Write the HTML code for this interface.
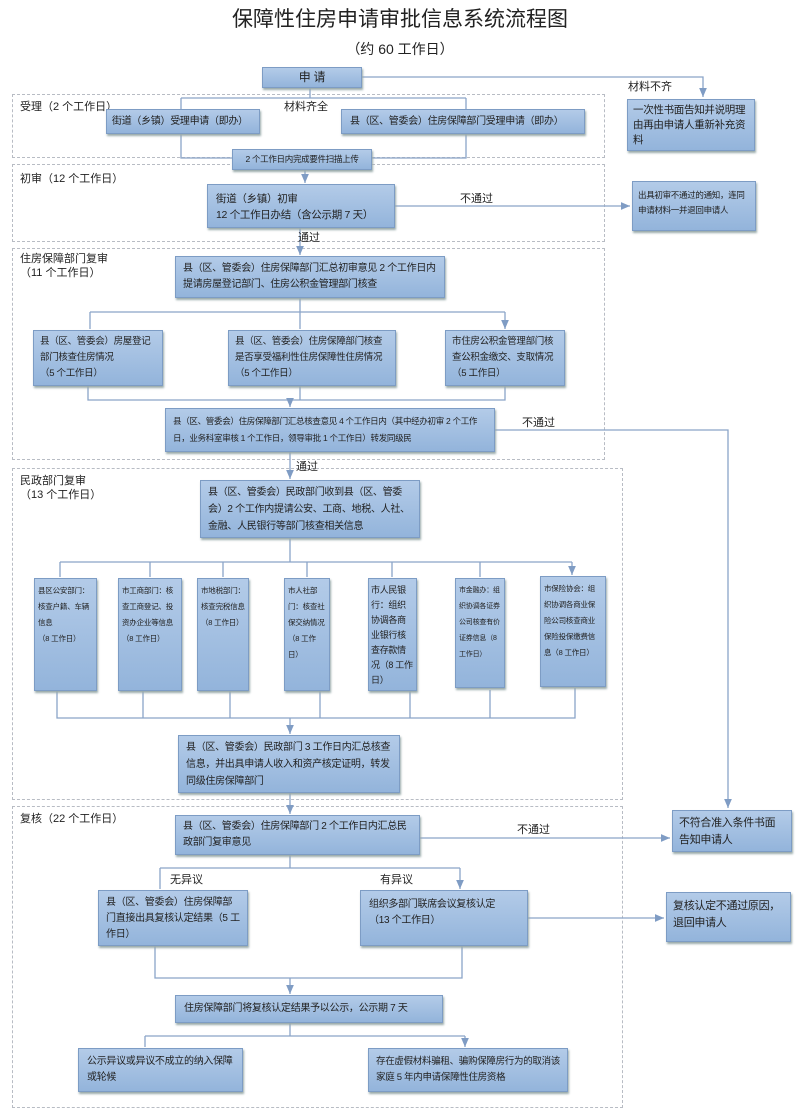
<!DOCTYPE html>
<html><head><meta charset="utf-8"><style>
body{margin:0;width:800px;height:1118px;background:#fff;position:relative;overflow:hidden;font-family:"Liberation Sans","Noto Sans CJK SC",sans-serif;color:#222}
.b{position:absolute;box-sizing:border-box;background:linear-gradient(#b3cbe8,#93b4db);border:1px solid #7d9cc4;box-shadow:1px 2px 2px #9aa;font-size:10px;line-height:15px;padding:3px 6px;overflow:hidden;letter-spacing:-0.3px}
.c{text-align:center}
.s{position:absolute;box-sizing:border-box;border:1px dashed #b8bcc4}
.t{position:absolute;font-size:11px;line-height:14px;white-space:nowrap}
.sm{font-size:7.5px;line-height:16px;padding:4px 3px;letter-spacing:-0.2px}
.nw{white-space:nowrap}
svg{position:absolute;left:0;top:0}
</style></head><body>
<div class="t" style="left:0;width:800px;text-align:center;top:6px;font-size:21px;line-height:28px">保障性住房申请审批信息系统流程图</div>
<div class="t" style="left:0;width:800px;text-align:center;top:40px;font-size:14px;line-height:18px">（约 60 工作日）</div>

<div class="s" style="left:12px;top:94px;width:593px;height:64px"></div>
<div class="s" style="left:12px;top:164px;width:593px;height:78px"></div>
<div class="s" style="left:12px;top:248px;width:593px;height:212px"></div>
<div class="s" style="left:12px;top:468px;width:611px;height:332px"></div>
<div class="s" style="left:12px;top:806px;width:611px;height:302px"></div>

<svg width="800" height="1118">
<defs><marker id="a" markerWidth="8" markerHeight="8" refX="7" refY="4" orient="auto"><path d="M0,1 L7,4 L0,7z" fill="#7f9cc4"/></marker></defs>
<g stroke="#8aa4c8" stroke-width="1.3" fill="none">
<path d="M362,77 H703 V97" marker-end="url(#a)"/>
<path d="M310,87 V98 M181,98 H466 M181,98 V158 H466 V98"/>
<path d="M305,169 V183" marker-end="url(#a)"/>
<path d="M395,206 H630" marker-end="url(#a)"/>
<path d="M300,228 V255" marker-end="url(#a)"/>
<path d="M300,298 V312 M90,312 H505"/>
<path d="M90,312 V329 M300,312 V329 M505,312 V329" marker-end="url(#a)"/>
<path d="M88,386 V400 H505 V386 M300,386 V400"/>
<path d="M290,400 V407" marker-end="url(#a)"/>
<path d="M495,430 H728 V808" marker-end="url(#a)"/>
<path d="M290,452 V479" marker-end="url(#a)"/>
<path d="M290,538 V562 M60,562 H572"/>
<path d="M60,562 V577 M150,562 V577 M223,562 V577 M307,562 V577 M392,562 V577 M480,562 V577 M572,562 V575" marker-end="url(#a)"/>
<path d="M57,690 V718 H575 V688 M143,690 V718 M230,690 V718 M320,690 V718 M410,690 V718 M490,690 V718"/>
<path d="M290,718 V734" marker-end="url(#a)"/>
<path d="M290,793 V814" marker-end="url(#a)"/>
<path d="M420,838 H670" marker-end="url(#a)"/>
<path d="M290,855 V868 M160,868 H460"/>
<path d="M160,868 V889 M460,868 V889" marker-end="url(#a)"/>
<path d="M528,918 H664" marker-end="url(#a)"/>
<path d="M155,946 V978 H462 V946"/>
<path d="M290,978 V994" marker-end="url(#a)"/>
<path d="M290,1023 V1036 M145,1036 H465"/>
<path d="M145,1036 V1047 M465,1036 V1047" marker-end="url(#a)"/>
</g></svg>

<div class="b c" style="left:262px;top:67px;width:100px;height:21px;font-size:12px;line-height:13px">申 请</div>
<div class="t" style="left:628px;top:80px">材料不齐</div>
<div class="b" style="left:627px;top:99px;width:128px;height:52px;font-size:10.5px;line-height:15px;padding:3px 5px">一次性书面告知并说明理由再由申请人重新补充资料</div>

<div class="t" style="left:20px;top:100px">受理（2 个工作日）</div>
<div class="t" style="left:284px;top:100px">材料齐全</div>
<div class="b nw" style="left:106px;top:109px;width:154px;height:25px;padding:4px 5px">街道（乡镇）受理申请（即办）</div>
<div class="b nw" style="left:341px;top:109px;width:244px;height:25px;padding:4px 8px">县（区、管委会）住房保障部门受理申请（即办）</div>
<div class="b c nw" style="left:232px;top:149px;width:140px;height:21px;font-size:8.5px;line-height:13px;padding:3px 2px">2 个工作日内完成要件扫描上传</div>

<div class="t" style="left:20px;top:172px">初审（12 个工作日）</div>
<div class="b nw" style="left:207px;top:184px;width:188px;height:44px;font-size:10.5px;line-height:16px;padding:6px 8px">街道（乡镇）初审<br>12 个工作日办结（含公示期 7 天）</div>
<div class="t" style="left:460px;top:192px">不通过</div>
<div class="b" style="left:632px;top:181px;width:124px;height:50px;font-size:8.5px;line-height:15px;padding:6px 5px">出具初审不通过的通知，连同申请材料一并退回申请人</div>
<div class="t" style="left:298px;top:231px">通过</div>

<div class="t" style="left:20px;top:252px">住房保障部门复审<br>（11 个工作日）</div>
<div class="b" style="left:175px;top:256px;width:270px;height:42px;font-size:10px;line-height:16px;padding:4px 7px">县（区、管委会）住房保障部门汇总初审意见 2 个工作日内提请房屋登记部门、住房公积金管理部门核查</div>
<div class="b" style="left:33px;top:330px;width:130px;height:56px;line-height:16px;font-size:9.5px">县（区、管委会）房屋登记部门核查住房情况<br>（5 个工作日）</div>
<div class="b" style="left:228px;top:330px;width:168px;height:56px;line-height:16px;font-size:9.5px">县（区、管委会）住房保障部门核查是否享受福利性住房保障性住房情况（5 个工作日）</div>
<div class="b" style="left:445px;top:330px;width:120px;height:56px;line-height:16px;font-size:9.5px">市住房公积金管理部门核查公积金缴交、支取情况（5 工作日）</div>
<div class="b" style="left:165px;top:408px;width:330px;height:44px;font-size:8.5px;line-height:17px;padding:4px 7px">县（区、管委会）住房保障部门汇总核查意见 4 个工作日内（其中经办初审 2 个工作日，业务科室审核 1 个工作日，领导审批 1 个工作日）转发同级民</div>
<div class="t" style="left:522px;top:416px">不通过</div>
<div class="t" style="left:296px;top:460px">通过</div>

<div class="t" style="left:20px;top:474px">民政部门复审<br>（13 个工作日）</div>
<div class="b" style="left:200px;top:480px;width:220px;height:58px;font-size:10px;line-height:17px;padding:3px 7px">县（区、管委会）民政部门收到县（区、管委会）2 个工作内提请公安、工商、地税、人社、金融、人民银行等部门核查相关信息</div>
<div class="b sm" style="left:34px;top:578px;width:63px;height:113px">县区公安部门：核查户籍、车辆信息<br>（8 工作日）</div>
<div class="b sm" style="left:118px;top:578px;width:64px;height:113px">市工商部门：核查工商登记、投资办企业等信息<br>（8 工作日）</div>
<div class="b sm" style="left:197px;top:578px;width:52px;height:113px">市地税部门：核查完税信息<br>（8 工作日）</div>
<div class="b sm" style="left:284px;top:578px;width:46px;height:113px">市人社部门：核查社保交纳情况<br>（8 工作日）</div>
<div class="b" style="left:368px;top:578px;width:49px;height:113px;font-size:9px;line-height:15px;padding:4px 2px">市人民银行：组织协调各商业银行核查存款情况（8 工作日）</div>
<div class="b sm" style="left:455px;top:578px;width:50px;height:110px;font-size:7px">市金融办：组织协调各证券公司核查有价证券信息（8 工作日）</div>
<div class="b sm" style="left:540px;top:576px;width:66px;height:111px">市保险协会：组织协调各商业保险公司核查商业保险投保缴费信息（8 工作日）</div>
<div class="b" style="left:178px;top:735px;width:222px;height:58px;font-size:10px;line-height:17px;padding:3px 7px">县（区、管委会）民政部门 3 工作日内汇总核查信息，并出具申请人收入和资产核定证明，转发同级住房保障部门</div>

<div class="t" style="left:20px;top:812px">复核（22 个工作日）</div>
<div class="b" style="left:175px;top:815px;width:245px;height:40px;line-height:16px;padding:3px 7px">县（区、管委会）住房保障部门 2 个工作日内汇总民政部门复审意见</div>
<div class="t" style="left:517px;top:823px">不通过</div>
<div class="b" style="left:672px;top:810px;width:120px;height:42px;font-size:11px;line-height:17px;padding:4px 6px">不符合准入条件书面告知申请人</div>
<div class="t" style="left:170px;top:873px">无异议</div>
<div class="t" style="left:380px;top:873px">有异议</div>
<div class="b" style="left:98px;top:890px;width:150px;height:56px;line-height:16px;padding:4px 7px">县（区、管委会）住房保障部门直接出具复核认定结果（5 工作日）</div>
<div class="b" style="left:360px;top:890px;width:168px;height:56px;line-height:16px;padding:6px 8px">组织多部门联席会议复核认定<br>（13 个工作日）</div>
<div class="b" style="left:666px;top:892px;width:125px;height:50px;font-size:11px;line-height:17px;padding:5px 6px">复核认定不通过原因，退回申请人</div>
<div class="b nw" style="left:175px;top:995px;width:268px;height:28px;line-height:14px;padding:6px 8px">住房保障部门将复核认定结果予以公示，公示期 7 天</div>
<div class="b" style="left:78px;top:1048px;width:165px;height:44px;line-height:16px;padding:5px 8px">公示异议或异议不成立的纳入保障或轮候</div>
<div class="b" style="left:368px;top:1048px;width:200px;height:44px;line-height:16px;padding:5px 7px;font-size:9.5px">存在虚假材料骗租、骗购保障房行为的取消该家庭 5 年内申请保障性住房资格</div>
</body></html>
